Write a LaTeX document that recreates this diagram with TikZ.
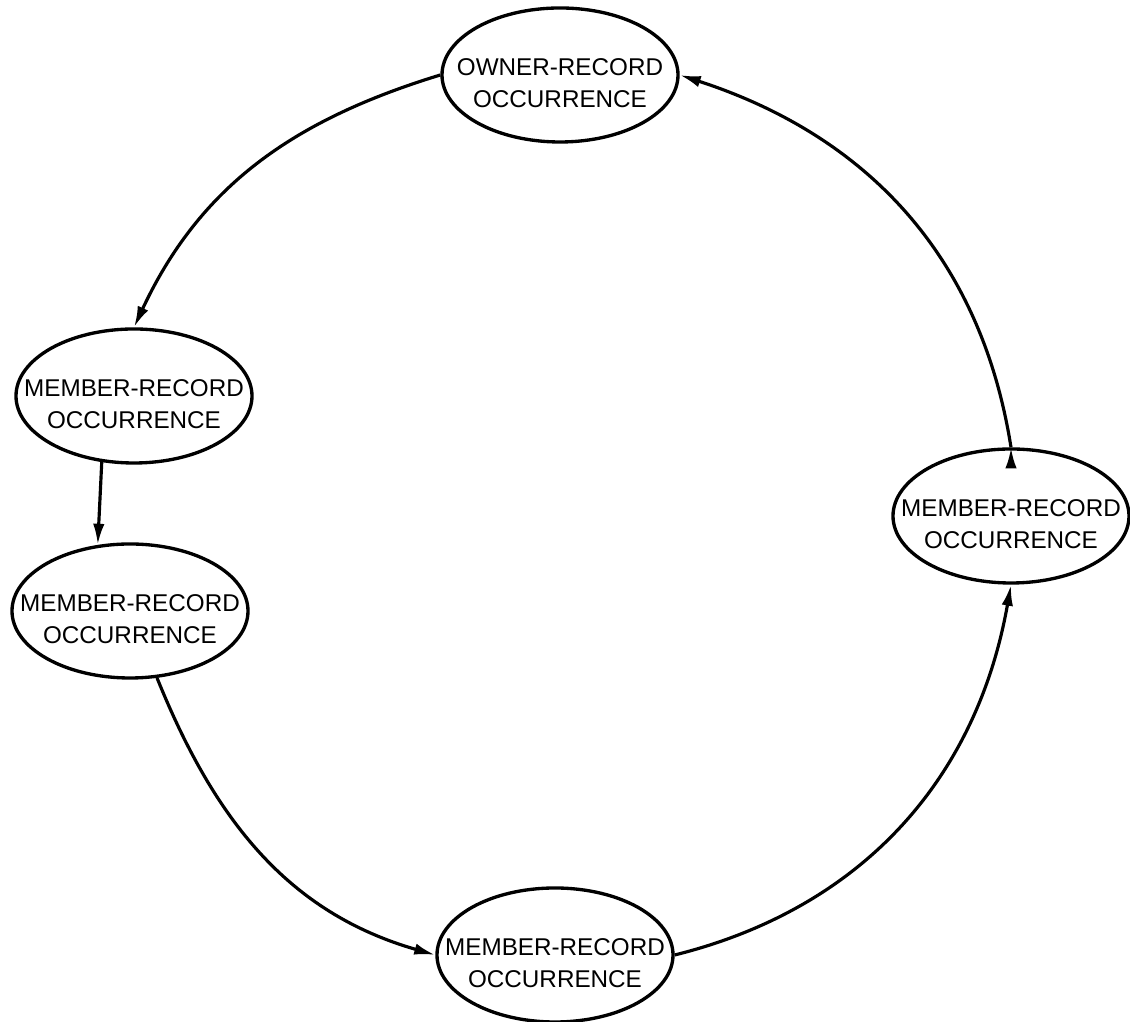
\documentclass[tikz,border=0pt]{standalone}
\usepackage{fontspec}
\setmainfont{Liberation Sans}
\usetikzlibrary{arrows.meta,shapes}

\newcommand{\occname}[1]{\raisebox{-9.5pt}[0pt][0pt]{\makebox[0pt]{\begin{tabular}{@{}c@{}}#1\\OCCURRENCE\end{tabular}}}}

\begin{document}
\begin{tikzpicture}[x=0.2mm,y=0.2mm,
            record/.style={draw,ellipse,line width=1.9pt,inner sep=0pt,minimum width=47.2mm,minimum height=26.8mm,font=\fontsize{13.8}{18}\selectfont},
            link/.style={draw,-{Latex[length=12pt,width=6.5pt]},line width=1.8pt}
          ]
          \useasboundingbox (0,0) rectangle (1130,1022);

          %records
          \node[record] (owner) at (560,947) {\occname{OWNER-RECORD}};
          \node[record] (m1) at (134,626) {\occname{MEMBER-RECORD}};
          \node[record] (m2) at (130,411) {\occname{MEMBER-RECORD}};
          \node[record] (m3) at (555,67) {\occname{MEMBER-RECORD}};
          \node[record] (m4) at (1011,506) {\occname{MEMBER-RECORD}};

          %set links
          \path[link]
          (owner.west) edge[out=197,in=65] (m1.north)
          (m1.244) edge (m2.116)
          (m2.292) edge[out=292,in=164] (m3.west)
          (m3.east) edge[out=14,in=260] (m4.south)
          (m4.north) edge[out=99,in=342] (owner.east)
          ;
\end{tikzpicture}
\end{document}
